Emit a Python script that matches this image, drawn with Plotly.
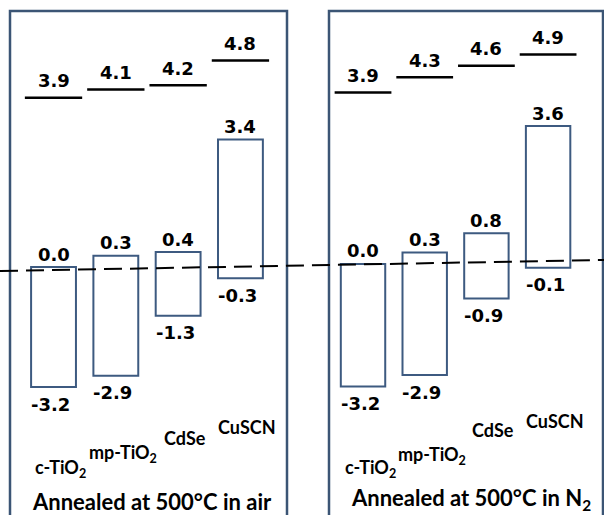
import plotly.graph_objects as go

# ---------------- data ----------------
materials = ["c-TiO<sub>2</sub>", "mp-TiO<sub>2</sub>", "CdSe", "CuSCN"]

air_top = [0.0, 0.3, 0.4, 3.4]
air_bottom = [-3.2, -2.9, -1.3, -0.3]
air_wf = [3.9, 4.1, 4.2, 4.8]

n2_top = [0.0, 0.3, 0.8, 3.6]
n2_bottom = [-3.2, -2.9, -0.9, -0.1]
n2_wf = [3.9, 4.3, 4.6, 4.9]

panel_titles = ["Annealed at 500°C in air", "Annealed at 500°C in N<sub>2</sub>"]

# ---------------- style ----------------
W, H = 604, 515
BOX_COLOR = "#3d5a80"
FRAME_COLOR = "#3b5575"
NUM_FONT = dict(family="DejaVu Sans", size=18, color="black", weight="bold")
LBL_FONT = dict(family="Lato", size=18, color="black", weight="bold")
TTL_FONT = dict(family="Lato", size=22, color="black", weight="bold")

idx = list(range(len(materials)))

fig = go.Figure()

panels = [
    dict(top=air_top, bot=air_bottom, wf=air_wf, xa="x", ya="y", wa="y3",
         label_y=[468, 453, 438, 427], title_x=152, title_y=501),
    dict(top=n2_top, bot=n2_bottom, wf=n2_wf, xa="x2", ya="y2", wa="y4",
         label_y=[468, 455, 430, 421], title_x=471, title_y=499),
]

annotations = []
for p in panels:
    heights = [t - b for t, b in zip(p["top"], p["bot"])]
    fig.add_trace(go.Bar(
        x=idx, y=heights, base=p["bot"], width=0.72,
        marker=dict(color="white", line=dict(color=BOX_COLOR, width=2)),
        xaxis=p["xa"], yaxis=p["ya"], showlegend=False, hoverinfo="skip"))
    # work-function lines
    for i, wf in enumerate(p["wf"]):
        fig.add_trace(go.Scatter(
            x=[i - 0.46, i + 0.46], y=[wf, wf], mode="lines",
            line=dict(color="black", width=2.5),
            xaxis=p["xa"], yaxis=p["wa"], showlegend=False, hoverinfo="skip"))
        annotations.append(dict(x=i, y=wf, xref=p["xa"], yref=p["wa"],
                                text=f"{wf:.1f}", showarrow=False, font=NUM_FONT,
                                yanchor="middle", yshift=17))
    for i in idx:
        annotations.append(dict(x=i, y=p["top"][i], xref=p["xa"], yref=p["ya"],
                                text=f"{p['top'][i]:.1f}", showarrow=False, font=NUM_FONT,
                                yanchor="middle", yshift=13))
        annotations.append(dict(x=i, y=p["bot"][i], xref=p["xa"], yref=p["ya"],
                                text=f"{p['bot'][i]:.1f}", showarrow=False, font=NUM_FONT,
                                yanchor="middle", yshift=-17, xshift=-3))
        annotations.append(dict(x=i, y=1 - p["label_y"][i] / H, xref=p["xa"], yref="paper",
                                text=materials[i], showarrow=False, font=LBL_FONT,
                                yanchor="middle", xshift=7))

for k, p in enumerate(panels):
    annotations.append(dict(x=p["title_x"] / W, y=1 - p["title_y"] / H, xref="paper", yref="paper",
                            text=panel_titles[k], showarrow=False, font=TTL_FONT,
                            xanchor="center", yanchor="middle"))

shapes = [
    dict(type="rect", xref="paper", yref="paper", x0=10 / W, x1=287 / W,
         y0=-0.05, y1=1 - 11 / H, line=dict(color=FRAME_COLOR, width=2.5), layer="below"),
    dict(type="rect", xref="paper", yref="paper", x0=329 / W, x1=603 / W,
         y0=-0.05, y1=1 - 11 / H, line=dict(color=FRAME_COLOR, width=2.5), layer="below"),
    dict(type="line", xref="paper", yref="paper", x0=0, x1=1,
         y0=1 - 271 / H, y1=1 - 260 / H, line=dict(color="black", width=2, dash="18px,8px")),
]

hidden = dict(visible=False, showgrid=False, zeroline=False, fixedrange=True)
fig.update_layout(
    width=W, height=H, margin=dict(l=0, r=0, t=0, b=0),
    paper_bgcolor="white", plot_bgcolor="rgba(0,0,0,0)",
    xaxis=dict(domain=[0, 0.5], range=[-0.859, 3.988], anchor="y", **hidden),
    xaxis2=dict(domain=[0.5, 1], range=[-0.989, 3.906], anchor="y2", **hidden),
    yaxis=dict(domain=[0, 1], range=[-6.613, 7.12], anchor="x", **hidden),
    yaxis2=dict(domain=[0, 1], range=[-6.554, 6.893], anchor="x2", **hidden),
    yaxis3=dict(overlaying="y", range=[-6.169, 6.259], anchor="x", **hidden),
    yaxis4=dict(overlaying="y2", range=[-7.195, 6.329], anchor="x2", **hidden),
    annotations=annotations, shapes=shapes, showlegend=False,
)

fig.write_html("out.html")
